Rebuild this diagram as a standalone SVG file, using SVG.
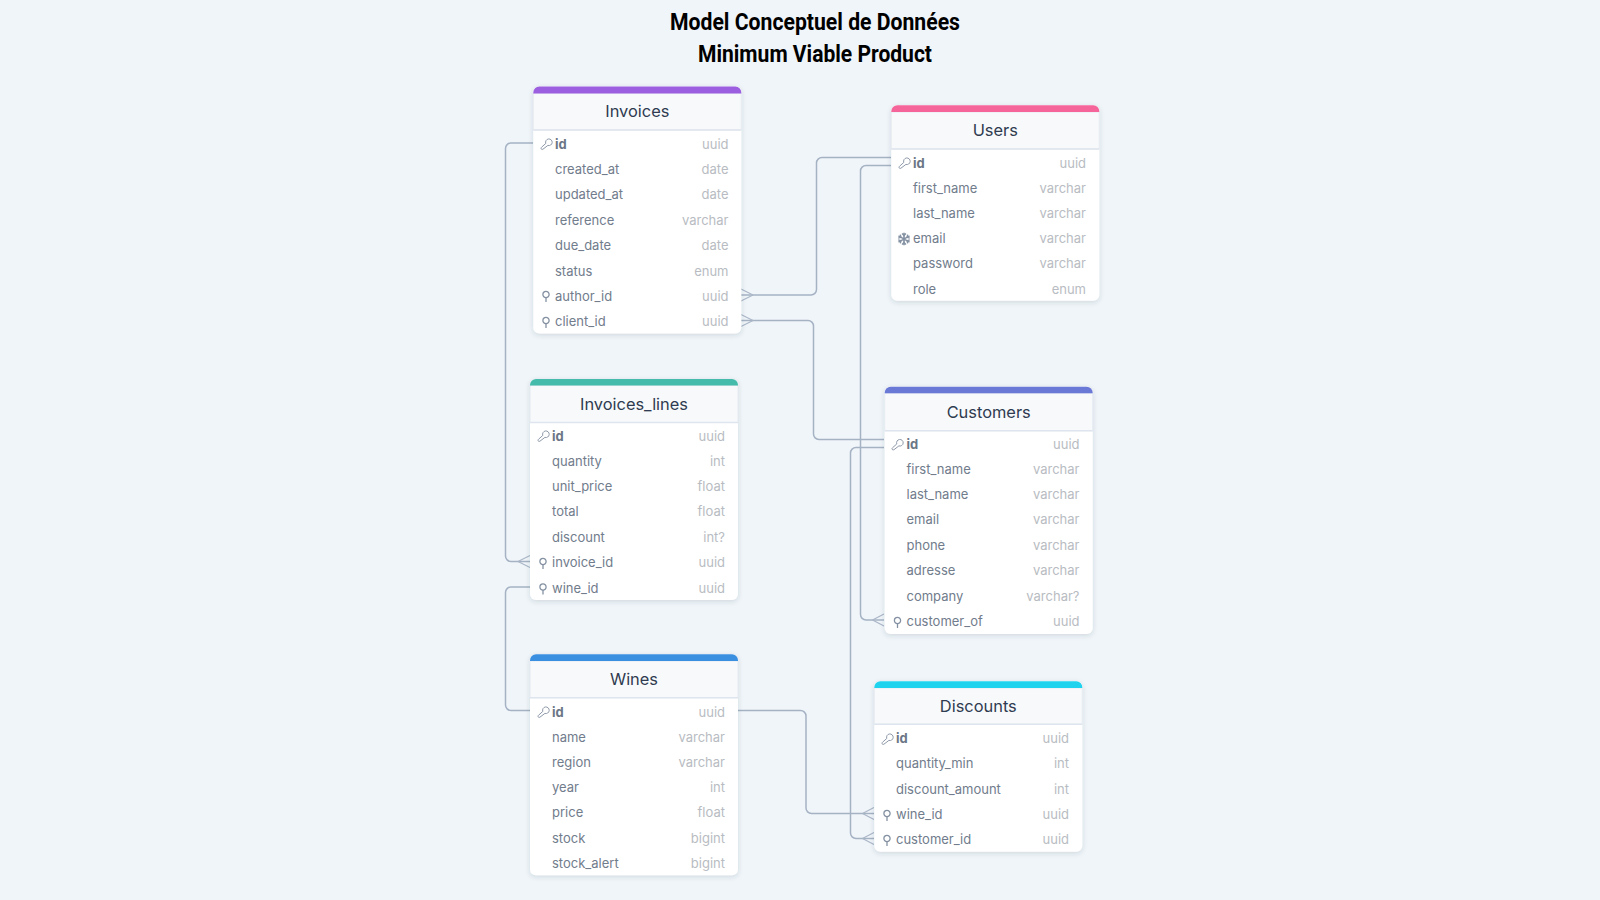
<svg xmlns="http://www.w3.org/2000/svg" width="1600" height="900" viewBox="0 0 1600 900">
<style>
text{font-family:Inter,"Noto Sans","Liberation Sans",sans-serif}
.title{font-family:Roboto,"Liberation Sans",sans-serif;font-weight:700;font-size:23px;fill:#000;text-anchor:middle}
.h{font-size:16.400px;font-weight:400;fill:#2f3b50;text-anchor:middle}
.n{font-size:13px;fill:#717c8c}
.k{font-size:13px;font-weight:700;fill:#6b7686}
.t{font-size:13px;fill:#b8bcc2;text-anchor:end}
.body{fill:#fff;filter:url(#sh)}
.head{fill:#f7f9fb;stroke:#e6ebf2;stroke-width:1}
.line{stroke:#dfe5ee;stroke-width:1.5;fill:none}
.c{fill:none;stroke:#a5b2c4;stroke-width:1.5}
.cf{fill:none;stroke:#aab6c7;stroke-width:1.200}
.ic{fill:none;stroke:#8e99a9;stroke-width:1}
.ic2{fill:none;stroke:#8491a2;stroke-width:1.300}
</style>
<defs>
<filter id="sh" x="-10%" y="-10%" width="120%" height="120%"><feDropShadow dx="0" dy="1.5" stdDeviation="2.5" flood-color="#2d3a50" flood-opacity="0.16"/></filter>
<g id="key"><path class="ic" d="M-0.200 -0.600A3.300 3.300 0 1 1 1.900 1.400L-3.200 5.300Q-4.800 5.800 -5 4.300Q-5 3.600 -4.400 3.200Z"/></g>
<g id="fk"><circle cx="0" cy="-1.500" r="3.100" class="ic2"/><path d="M0 1.600V6" class="ic2"/></g>
<g id="snow"><path d="M0 -6.300V6.300M-5.500 -3.100L5.500 3.100M-5.500 3.100L5.500 -3.100" stroke="#8491a2" stroke-width="1.600" fill="none"/><path d="M-2 -5.500L0 -3.500L2 -5.500M-2 5.500L0 3.500L2 5.500M-5.800 -0.800L-3 -1.700L-3.700 -4.400M5.800 -0.800L3 -1.700L3.700 -4.400M-5.800 0.800L-3 1.700L-3.700 4.400M5.800 0.800L3 1.700L3.700 4.400" stroke="#8491a2" stroke-width="1.300" fill="none"/></g>
</defs>
<rect width="1600" height="900" fill="#f0f5f9"/>
<text class="title" x="815" y="30" textLength="290" lengthAdjust="spacingAndGlyphs">Model Conceptuel de Données</text>
<text class="title" x="815" y="62" textLength="234" lengthAdjust="spacingAndGlyphs">Minimum Viable Product</text>

<g id="connectors">
<path class="c" d="M533 143H511a5.500 5.500 0 0 0-5.500 5.500V556a5.500 5.500 0 0 0 5.500 5.500H530"/>
<path class="cf" d="M518 561.500L530 555.500M518 561.500L530 567.500"/>
<path class="c" d="M530 587H511a5.500 5.500 0 0 0-5.500 5.500V705a5.500 5.500 0 0 0 5.500 5.500H530"/>
<path class="c" d="M738 710.500H800.500a5.500 5.500 0 0 1 5.500 5.500V808a5.500 5.500 0 0 0 5.500 5.500H874"/>
<path class="cf" d="M862.500 813.500L874 807.500M862.500 813.500L874 819.500"/>
<path class="c" d="M891 157.500H822a5.500 5.500 0 0 0-5.500 5.500V289.500a5.500 5.500 0 0 1-5.500 5.500H741"/>
<path class="cf" d="M753 295L741 289M753 295L741 301"/>
<path class="c" d="M891 165.500H866a5.500 5.500 0 0 0-5.500 5.500V614.500a5.500 5.500 0 0 0 5.500 5.500H884"/>
<path class="cf" d="M872.500 620L884 614M872.500 620L884 626"/>
<path class="c" d="M884 439.500H819a5.500 5.500 0 0 1-5.500-5.500V326a5.500 5.500 0 0 0-5.500-5.500H741"/>
<path class="cf" d="M753 320.500L741 314.500M753 320.500L741 326.500"/>
<path class="c" d="M884 447.500H856a5.500 5.500 0 0 0-5.500 5.500V833a5.500 5.500 0 0 0 5.500 5.500H874"/>
<path class="cf" d="M862.500 838.500L874 832.500M862.500 838.500L874 844.500"/>
</g>

<g id="invoices">
<rect class="body" x="533.300" y="86.500" width="208" height="247" rx="6"/>
<path class="head" d="M533.300 93H741.300V130H533.300Z"/><path class="line" d="M533.300 130H741.300"/>
<path fill="#9c5fe0" d="M533.300 93.500V92.500a6 6 0 0 1 6-6H735.300a6 6 0 0 1 6 6V93.500Z"/>
<text class="h" x="637.300" y="117">Invoices</text>
<use href="#key" x="546" y="144"/><text class="k" x="555" y="148.500">id</text><text class="t" x="728.500" y="148.500">uuid</text>
<text class="n" x="555" y="174">created_at</text><text class="t" x="728.500" y="174">date</text>
<text class="n" x="555" y="199">updated_at</text><text class="t" x="728.500" y="199">date</text>
<text class="n" x="555" y="224.500">reference</text><text class="t" x="728.500" y="224.500">varchar</text>
<text class="n" x="555" y="250">due_date</text><text class="t" x="728.500" y="250">date</text>
<text class="n" x="555" y="275.500">status</text><text class="t" x="728.500" y="275.500">enum</text>
<use href="#fk" x="546" y="296"/><text class="n" x="555" y="300.500">author_id</text><text class="t" x="728.500" y="300.500">uuid</text>
<use href="#fk" x="546" y="322"/><text class="n" x="555" y="326">client_id</text><text class="t" x="728.500" y="326">uuid</text>
</g>

<g id="users">
<rect class="body" x="891.300" y="105.300" width="208" height="195.500" rx="6"/>
<path class="head" d="M891.300 112H1099.300V149H891.300Z"/><path class="line" d="M891.300 149H1099.300"/>
<path fill="#f5659a" d="M891.300 112V111.300a6 6 0 0 1 6-6H1093.300a6 6 0 0 1 6 6V112Z"/>
<text class="h" x="995.300" y="136">Users</text>
<use href="#key" x="904" y="163"/><text class="k" x="913" y="167.500">id</text><text class="t" x="1086" y="167.500">uuid</text>
<text class="n" x="913" y="192.500">first_name</text><text class="t" x="1086" y="192.500">varchar</text>
<text class="n" x="913" y="217.500">last_name</text><text class="t" x="1086" y="217.500">varchar</text>
<use href="#snow" x="904" y="239"/><text class="n" x="913" y="243">email</text><text class="t" x="1086" y="243">varchar</text>
<text class="n" x="913" y="268">password</text><text class="t" x="1086" y="268">varchar</text>
<text class="n" x="913" y="294">role</text><text class="t" x="1086" y="294">enum</text>
</g>

<g id="invoices_lines">
<rect class="body" x="530" y="379" width="208" height="221" rx="6"/>
<path class="head" d="M530 385.500H738V422.500H530Z"/><path class="line" d="M530 422.500H738"/>
<path fill="#45bcab" d="M530 385.500V385a6 6 0 0 1 6-6H732a6 6 0 0 1 6 6V385.500Z"/>
<text class="h" x="634" y="409.500">Invoices_lines</text>
<use href="#key" x="543" y="436"/><text class="k" x="552" y="440.500">id</text><text class="t" x="725" y="440.500">uuid</text>
<text class="n" x="552" y="466">quantity</text><text class="t" x="725" y="466">int</text>
<text class="n" x="552" y="491">unit_price</text><text class="t" x="725" y="491">float</text>
<text class="n" x="552" y="516">total</text><text class="t" x="725" y="516">float</text>
<text class="n" x="552" y="542">discount</text><text class="t" x="725" y="542">int?</text>
<use href="#fk" x="543" y="563"/><text class="n" x="552" y="567">invoice_id</text><text class="t" x="725" y="567">uuid</text>
<use href="#fk" x="543" y="588.500"/><text class="n" x="552" y="592.500">wine_id</text><text class="t" x="725" y="592.500">uuid</text>
</g>

<g id="customers">
<rect class="body" x="884.700" y="386.700" width="208" height="247.300" rx="6"/>
<path class="head" d="M884.700 393.300H1092.700V430.700H884.700Z"/><path class="line" d="M884.700 430.700H1092.700"/>
<path fill="#6a78d6" d="M884.700 393.300V392.700a6 6 0 0 1 6-6H1086.700a6 6 0 0 1 6 6V393.300Z"/>
<text class="h" x="988.700" y="417.500">Customers</text>
<use href="#key" x="897" y="444.500"/><text class="k" x="906.500" y="448.700">id</text><text class="t" x="1079.500" y="448.700">uuid</text>
<text class="n" x="906.500" y="473.700">first_name</text><text class="t" x="1079.500" y="473.700">varchar</text>
<text class="n" x="906.500" y="499.300">last_name</text><text class="t" x="1079.500" y="499.300">varchar</text>
<text class="n" x="906.500" y="524.300">email</text><text class="t" x="1079.500" y="524.300">varchar</text>
<text class="n" x="906.500" y="550">phone</text><text class="t" x="1079.500" y="550">varchar</text>
<text class="n" x="906.500" y="575">adresse</text><text class="t" x="1079.500" y="575">varchar</text>
<text class="n" x="906.500" y="601">company</text><text class="t" x="1079.500" y="601">varchar?</text>
<use href="#fk" x="897.500" y="622"/><text class="n" x="906.500" y="626">customer_of</text><text class="t" x="1079.500" y="626">uuid</text>
</g>

<g id="wines">
<rect class="body" x="530" y="654.300" width="208" height="221" rx="6"/>
<path class="head" d="M530 661H738V697.700H530Z"/><path class="line" d="M530 697.700H738"/>
<path fill="#3a8fe0" d="M530 661V660.300a6 6 0 0 1 6-6H732a6 6 0 0 1 6 6V661Z"/>
<text class="h" x="634" y="685">Wines</text>
<use href="#key" x="543" y="712"/><text class="k" x="552" y="716.500">id</text><text class="t" x="725" y="716.500">uuid</text>
<text class="n" x="552" y="742">name</text><text class="t" x="725" y="742">varchar</text>
<text class="n" x="552" y="766.500">region</text><text class="t" x="725" y="766.500">varchar</text>
<text class="n" x="552" y="792">year</text><text class="t" x="725" y="792">int</text>
<text class="n" x="552" y="817">price</text><text class="t" x="725" y="817">float</text>
<text class="n" x="552" y="843">stock</text><text class="t" x="725" y="843">bigint</text>
<text class="n" x="552" y="868">stock_alert</text><text class="t" x="725" y="868">bigint</text>
</g>

<g id="discounts">
<rect class="body" x="874.300" y="681.300" width="208" height="170.500" rx="6"/>
<path class="head" d="M874.300 688H1082.300V724.300H874.300Z"/><path class="line" d="M874.300 724.300H1082.300"/>
<path fill="#1fd3ee" d="M874.300 688V687.300a6 6 0 0 1 6-6H1076.300a6 6 0 0 1 6 6V688Z"/>
<text class="h" x="978.300" y="712">Discounts</text>
<use href="#key" x="887" y="739"/><text class="k" x="896" y="743.300">id</text><text class="t" x="1069" y="743.300">uuid</text>
<text class="n" x="896" y="768.300">quantity_min</text><text class="t" x="1069" y="768.300">int</text>
<text class="n" x="896" y="794">discount_amount</text><text class="t" x="1069" y="794">int</text>
<use href="#fk" x="887" y="815"/><text class="n" x="896" y="819">wine_id</text><text class="t" x="1069" y="819">uuid</text>
<use href="#fk" x="887" y="840"/><text class="n" x="896" y="844">customer_id</text><text class="t" x="1069" y="844">uuid</text>
</g>
</svg>
